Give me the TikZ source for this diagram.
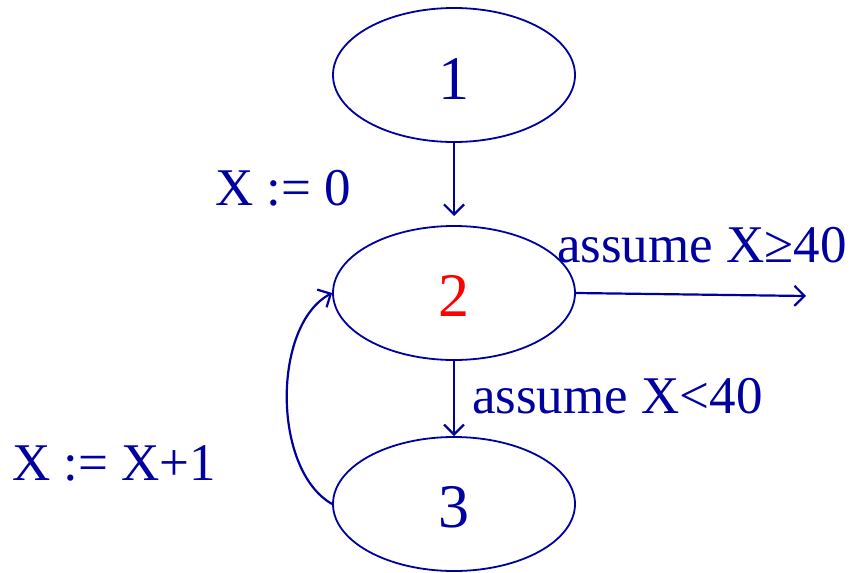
\documentclass[tikz,border=0pt]{standalone}
\usepackage{fontspec}
\setmainfont{Liberation Serif}
\usetikzlibrary{shapes.geometric,arrows.meta}
\definecolor{navy}{RGB}{0,0,160}
\begin{document}
\begin{tikzpicture}[x=1pt,y=-1pt,
  state/.style={ellipse,draw=navy,line width=1.8pt,minimum width=242pt,minimum height=134pt,inner sep=0pt},
  conn/.style={draw=navy,line width=2.2pt,-{Straight Barb[length=10pt,width=20pt,line width=2.2pt]}},
  lbl/.style={text=navy,inner sep=0pt,font=\fontsize{53}{63}\selectfont},
  num/.style={text=navy,inner sep=0pt,font=\fontsize{62}{72}\selectfont}]
\useasboundingbox (0,0) rectangle (852,573);
\node[state] (n1) at (454,75) {};
\node[state] (n2) at (454,293) {};
\node[state] (n3) at (454,504) {};
\node[num,anchor=base] (l1) at (454,99) {1};
\node[num,anchor=base,text=red] (l2) at (454,316) {2};
\node[num,anchor=base] (l3) at (454,527) {3};
\coordinate (t12) at (454,216);
\coordinate (tout) at (806,296);
\draw[conn] (n1.south) -- (t12);
\draw[conn] (n2.south) -- (n3.north);
\draw[conn] (n2.east) -- (tout);
\draw[conn] (n3.west) .. controls (272,470) and (272,325) .. (n2.west);
\node[lbl,anchor=base west] (a) at (215,205) {X := 0};
\node[lbl,anchor=base west] (b) at (557,262) {assume X≥40};
\node[lbl,anchor=base west] (c) at (472,413) {assume X<40};
\node[lbl,anchor=base west] (d) at (12,480) {X := X+1};
\end{tikzpicture}
\end{document}
